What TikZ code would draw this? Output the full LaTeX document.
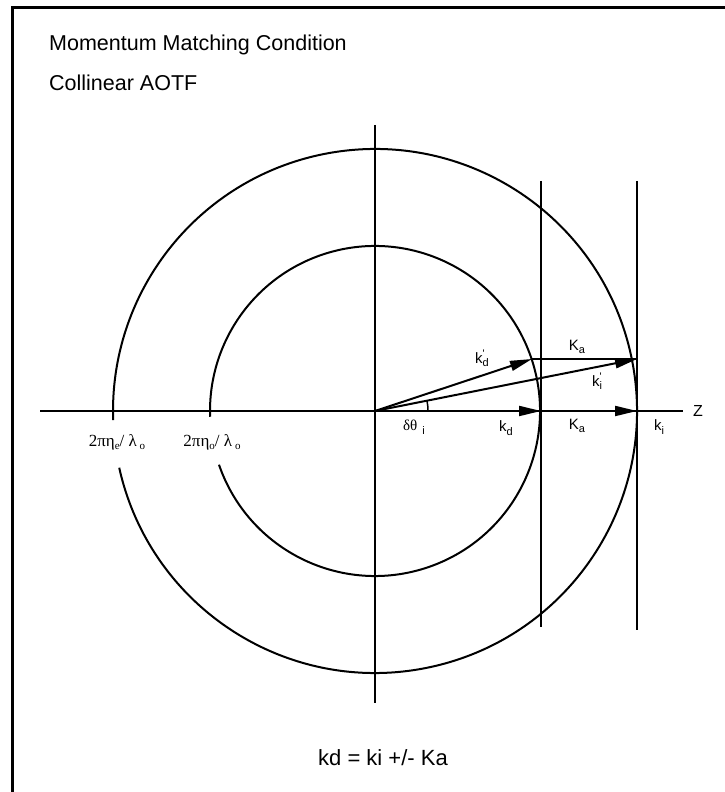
\documentclass[tikz,border=0pt]{standalone}
\usepackage{fontspec}
\setmainfont{Liberation Sans}
\newfontfamily\grk{Liberation Serif}
\usetikzlibrary{arrows.meta}
\newcommand{\lsub}[1]{\raisebox{-0.45ex}{\fontsize{11}{11}\selectfont #1}}
\newcommand{\lps}[1]{\raisebox{-0.45ex}{\fontsize{11}{10.5}\selectfont\begin{tabular}[b]{@{}l@{}}\textquotesingle\\[-2pt]#1\end{tabular}}}
\begin{document}
\begin{tikzpicture}[x=1pt,y=1pt,
  ln/.style={line width=2pt},
  vec/.style={line width=2pt,-{Triangle[length=22pt,width=10pt]}},
  lab/.style={inner sep=0pt,font=\fontsize{15}{15}\selectfont},
  glab/.style={inner sep=0pt,font=\grk\fontsize{17}{17}\selectfont},
  ttl/.style={inner sep=0pt,anchor=west,font=\fontsize{21.5}{24}\selectfont}]
\clip (0,0) rectangle (725,792);
\fill[white] (0,0) rectangle (725,792);
\draw[line width=3pt] (12,784) rectangle (760,-30);
% coordinates
\coordinate (O) at (375,381);
\coordinate (axL) at (40,381);
\coordinate (axR) at (683,381);
\coordinate (vT) at (375,667);
\coordinate (vB) at (375,89);
\coordinate (d) at (541,381);
\coordinate (i) at (637,381);
\coordinate (dp) at (532,433);
\coordinate (ip) at (637,433);
\coordinate (l1T) at (541,611);
\coordinate (l1B) at (541,165);
\coordinate (l2T) at (637,611);
\coordinate (l2B) at (637,162);
% axes
\draw[ln] (axL) -- (axR);
\draw[ln] (vT) -- (vB);
\draw[ln] (l1T) -- (l1B);
\draw[ln] (l2T) -- (l2B);
% circles
\draw[ln] (O) ++(192.5:262) arc[start angle=192.5,end angle=542,radius=262];
\draw[ln] (O) ++(199:165) arc[start angle=199,end angle=542,radius=165];
% vectors
\draw[vec] (O) -- (d);
\draw[vec] (d) -- (i);
\draw[vec] (O) -- (dp);
\draw[ln] (dp) -- (ip);
\draw[vec] (O) -- (ip);
\draw[line width=1.5pt] (O) ++(0:53) arc[start angle=0,end angle=11.2,radius=53];
% labels
\node[lab] (lkdp) at (482,432) {k\lps{d}};
\node[lab] (lKa1) at (577,445) {K\lsub{a}};
\node[lab] (lkip) at (597,409) {k\lps{i}};
\node[lab] (lth) at (414,365) {{\grk δθ}\,\,\lsub{i}};
\node[lab] (lkd) at (506,364) {k\lsub{d}};
\node[lab] (lKa2) at (577,366) {K\lsub{a}};
\node[lab] (lki) at (659,365) {k\lsub{i}};
\node[lab,font=\fontsize{16}{16}\selectfont] (lz) at (698,381) {Z};
\node[glab] (le) at (117,350) {2πη\lsub{e}/ λ\,\lsub{o}};
\node[glab] (lo) at (212,350) {2πη\lsub{o}/ λ\,\lsub{o}};
\node[ttl] (t1) at (49,747) {Momentum Matching Condition};
\node[ttl] (t2) at (49,709) {Collinear AOTF};
\node[inner sep=0pt,font=\fontsize{22}{24}\selectfont] (eq) at (383,34) {kd = ki +/- Ka};
\end{tikzpicture}
\end{document}
